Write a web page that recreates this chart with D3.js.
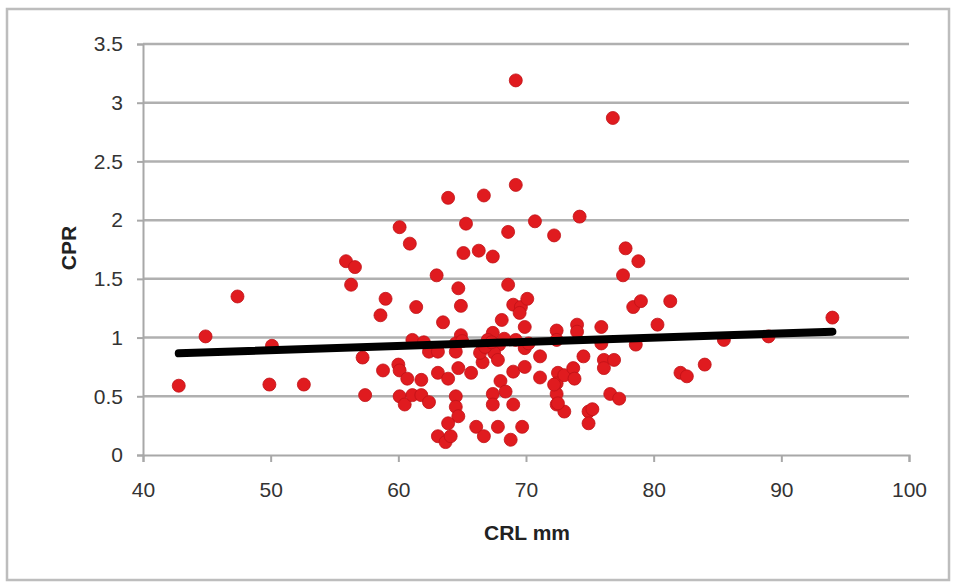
<!DOCTYPE html>
<html><head><meta charset="utf-8">
<script src="https://cdn.jsdelivr.net/npm/d3@7"></script>
<style>body{margin:0;background:#fff;}svg{display:block;}</style>
</head><body>
<svg id="c" width="955" height="584"></svg>
<script>
const crl = [42.8,44.9,47.4,50.1,49.9,52.6,55.9,56.6,56.3,57.2,57.4,59.0,58.6,58.8,60.1,60.9,61.4,60.0,60.1,60.7,61.8,60.1,60.5,61.1,61.8,62.4,61.1,62.0,62.4,63.1,63.0,63.5,63.1,63.9,63.9,64.7,64.9,64.9,64.5,64.5,64.7,65.7,64.5,64.5,64.7,63.9,63.1,63.7,64.1,65.3,65.1,66.3,66.7,67.4,66.1,66.7,66.6,67.4,67.0,67.9,67.5,67.8,68.1,68.6,68.6,69.2,69.2,69.0,69.6,70.1,69.5,69.9,69.2,69.9,70.2,71.1,69.0,69.9,71.1,68.0,68.4,67.4,67.4,69.0,67.8,68.8,69.7,70.7,72.2,74.2,76.8,72.4,72.4,72.5,72.4,73.0,73.7,73.8,72.4,72.4,73.0,74.0,74.0,74.5,75.9,75.9,76.1,76.9,76.1,74.9,75.2,74.9,76.6,77.3,77.8,78.8,77.6,78.4,79.0,78.6,80.3,81.3,82.1,82.6,84.0,85.5,89.0,94.0,66.4,66.8,67.3,65.0,68.3,72.2,72.5];
const cpr = [0.59,1.01,1.35,0.93,0.60,0.60,1.65,1.60,1.45,0.83,0.51,1.33,1.19,0.72,1.94,1.80,1.26,0.77,0.72,0.65,0.64,0.50,0.43,0.51,0.51,0.45,0.98,0.96,0.88,0.88,1.53,1.13,0.70,0.65,2.19,1.42,1.27,1.02,0.95,0.88,0.74,0.70,0.50,0.41,0.33,0.27,0.16,0.11,0.16,1.97,1.72,1.74,2.21,1.69,0.24,0.16,0.79,1.04,0.98,0.94,0.87,0.81,1.15,1.45,1.90,2.30,3.19,1.28,1.26,1.33,1.21,1.09,0.98,0.91,0.95,0.84,0.71,0.75,0.66,0.63,0.54,0.52,0.43,0.43,0.24,0.13,0.24,1.99,1.87,2.03,2.87,1.06,0.98,0.70,0.61,0.68,0.74,0.65,0.52,0.43,0.37,1.11,1.05,0.84,1.09,0.95,0.81,0.81,0.74,0.37,0.39,0.27,0.52,0.48,1.76,1.65,1.53,1.26,1.31,0.94,1.11,1.31,0.70,0.67,0.77,0.98,1.01,1.17,0.87,0.92,0.96,0.97,0.99,0.60,0.44];
const trendX = [42.8, 94.0];
const trendY = [0.866, 1.05];
const xTicks = [40,50,60,70,80,90,100];
const yTicks = [0,0.5,1,1.5,2,2.5,3,3.5];

const svg = d3.select("#c");
const x = d3.scaleLinear().domain([40,100]).range([143,909]);
const y = d3.scaleLinear().domain([0,3.5]).range([455,44]);

svg.append("rect").attr("x",7).attr("y",9).attr("width",942).attr("height",571)
  .attr("fill","#fff").attr("stroke","#bdbdbd").attr("stroke-width",2.5);

// gridlines
svg.append("g").selectAll("line").data(yTicks.filter(d=>d>0)).join("line")
  .attr("x1",x(40)).attr("x2",x(100)).attr("y1",d=>y(d)).attr("y2",d=>y(d))
  .attr("stroke","#b0b0b0").attr("stroke-width",2.5);

// y axis
const ya = svg.append("g").attr("transform",`translate(${x(40)},0)`)
  .call(d3.axisLeft(y).tickValues(yTicks).tickSize(6).tickPadding(14).tickFormat(d3.format("~g")));
ya.select(".domain").attr("stroke","#a8a8a8").attr("stroke-width",2);
ya.selectAll(".tick line").attr("stroke","#a8a8a8").attr("stroke-width",2);
ya.selectAll("text").attr("font-family","Liberation Sans, Arial, sans-serif").attr("font-size",21).attr("fill","#333");

// x axis
const xa = svg.append("g").attr("transform",`translate(0,${y(0)})`)
  .call(d3.axisBottom(x).tickValues(xTicks).tickSize(7).tickPadding(20).tickFormat(d3.format("d")));
xa.select(".domain").attr("stroke","#a8a8a8").attr("stroke-width",2);
xa.selectAll(".tick line").attr("stroke","#a8a8a8").attr("stroke-width",2);
xa.selectAll("text").attr("font-family","Liberation Sans, Arial, sans-serif").attr("font-size",21).attr("fill","#333");

// points
const pts = crl.map((c,i)=>({x:c,y:cpr[i]}));
svg.append("g").selectAll("circle").data(pts).join("circle")
  .attr("cx",d=>x(d.x)).attr("cy",d=>y(d.y)).attr("r",6.5)
  .attr("fill","#e01b1f").attr("stroke","#c01217").attr("stroke-width",0.8);

// trend line
svg.append("line").attr("x1",x(trendX[0])).attr("y1",y(trendY[0]))
  .attr("x2",x(trendX[1])).attr("y2",y(trendY[1]))
  .attr("stroke","#000").attr("stroke-width",8).attr("stroke-linecap","round");

// titles
svg.append("text").attr("x",527).attr("y",540).attr("text-anchor","middle")
  .attr("font-family","Liberation Sans, Arial, sans-serif").attr("font-weight","bold").attr("font-size",21).attr("fill","#222").text("CRL mm");
svg.append("text").attr("transform","translate(76,248) rotate(-90)").attr("text-anchor","middle")
  .attr("font-family","Liberation Sans, Arial, sans-serif").attr("font-weight","bold").attr("font-size",21).attr("fill","#222").text("CPR");
</script>
</body></html>
